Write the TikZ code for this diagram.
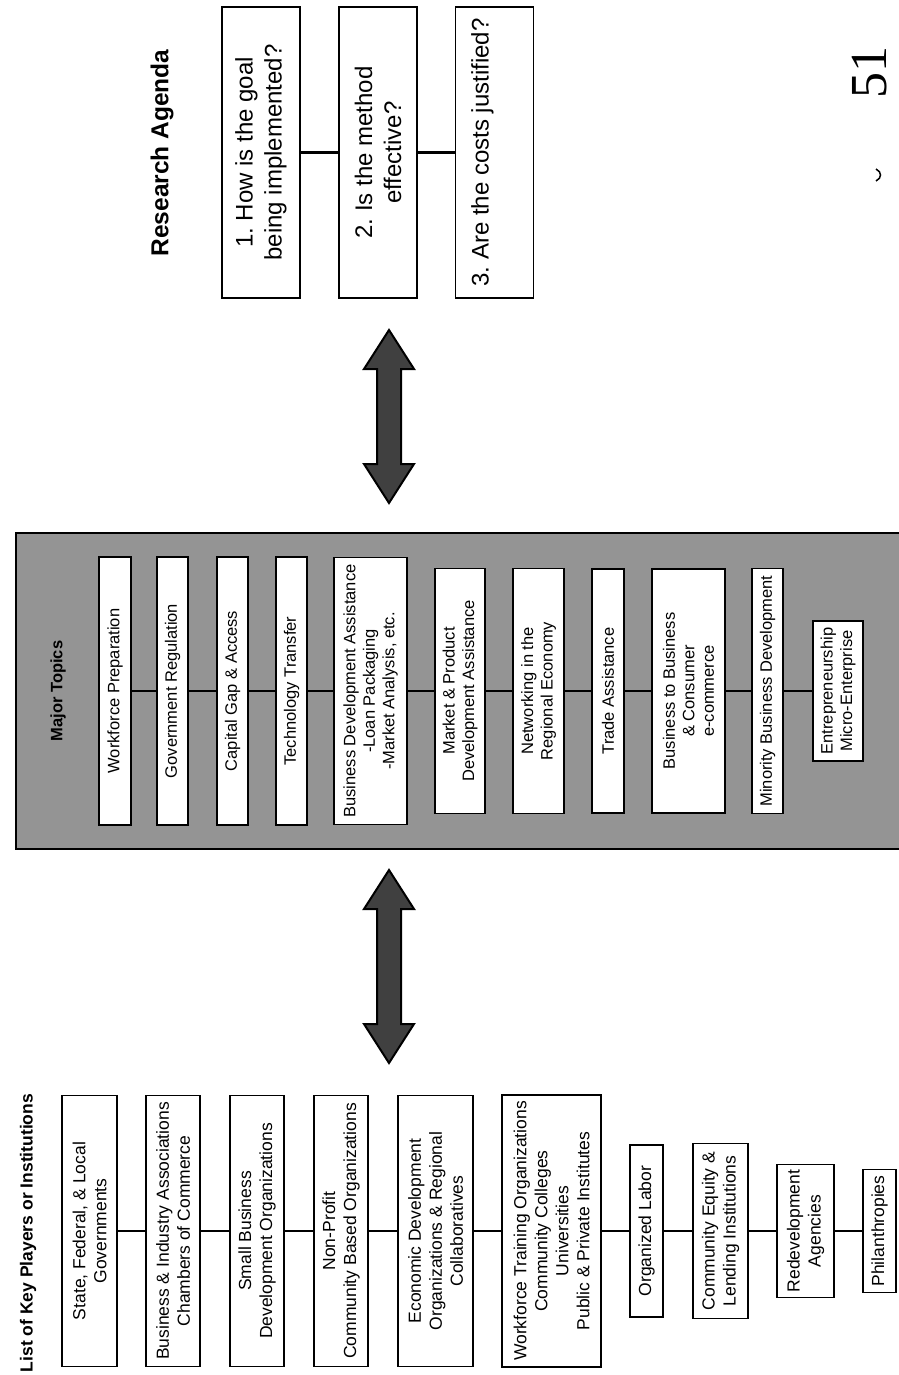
\documentclass[tikz,border=0pt]{standalone}
\usepackage{fontspec}
\setmainfont{Liberation Sans}
\newfontfamily\pagenofont{Liberation Serif}
\frenchspacing

\tikzset{
	box/.style={draw, line width=1.8pt, fill=white, rotate=90, align=center, inner sep=0pt},
	player/.style={box, font=\fontsize{17.5}{21}\selectfont},
	topic/.style={box, font=\fontsize{16.5}{19.5}\selectfont},
	question/.style={box, font=\fontsize{24}{29}\selectfont, minimum width=291pt, minimum height=78pt},
	heading/.style={rotate=90, inner sep=0pt, font=\bfseries},
	link/.style={line width=2.2pt},
}

\begin{document}
\begin{tikzpicture}[x=1pt, y=-1pt]

\useasboundingbox (0,0) rectangle (898,1375);

%% RESEARCH AGENDA
\node[heading, font=\bfseries\fontsize{24.5}{29}\selectfont] (agenda) at (162,153) {Research Agenda};

\node[question] (goal) at (261,152.5) {1. How is the goal\\being implemented?};
\node[question] (method) at (378,152.5) {2. Is the method\\effective?};
\node[question] (costs) at (494.5,152.5) {3. Are the costs justified?\\\mbox{}};

\draw[link] (goal.south) -- (method.north);
\draw[link] (method.south) -- (costs.north);

% Page number
\node[rotate=90, inner sep=0pt, font=\pagenofont\fontsize{52}{60}\selectfont] (pageno) at (870,73) {51};
\draw[line width=1.5pt] (876,169) .. controls (882,172) and (882,178) .. (876,181);

%% MAJOR TOPICS
% Shaded field
\draw[line width=2.5pt, fill=black!42] (16,533) rectangle (906,849);
\node[heading, font=\bfseries\fontsize{16.5}{19.5}\selectfont] (major) at (58,691) {Major Topics};

% Topics
\node[topic, minimum width=268pt, minimum height=32pt] (prep) at (115,691) {Workforce Preparation};
\node[topic, minimum width=268pt, minimum height=31pt] (regul) at (172.5,691) {Government Regulation};
\node[topic, minimum width=268pt, minimum height=31pt] (capital) at (232.5,691) {Capital Gap \& Access};
\node[topic, minimum width=268pt, minimum height=31pt] (techno) at (291.5,691) {Technology Transfer};
\node[topic, minimum width=267pt, minimum height=73pt] (bizdev) at (370.5,691) {Business Development Assistance\\-Loan Packaging\\-Market Analysis, etc.};
\node[topic, minimum width=245pt, minimum height=50pt] (market) at (460,691) {Market \& Product\\Development Assistance};
\node[topic, minimum width=245pt, minimum height=51pt] (network) at (538.5,691) {Networking in the\\Regional Economy};
\node[topic, minimum width=244pt, minimum height=32pt] (trade) at (608,691) {Trade Assistance};
\node[topic, minimum width=244pt, minimum height=73pt] (ecomm) at (688.5,691) {Business to Business\\\& Consumer\\e-commerce};
\node[topic, minimum width=245pt, minimum height=31pt] (minority) at (767.5,691) {Minority Business Development};
\node[topic, minimum width=140pt, minimum height=50pt] (entre) at (838,691) {Entrepreneurship\\Micro-Enterprise};

\foreach \a/\b in {prep/regul, regul/capital, capital/techno, techno/bizdev, bizdev/market, market/network, network/trade, trade/ecomm, ecomm/minority, minority/entre}
{
	\draw[link] (\a.south) -- (\b.north);
}

%% DOUBLE ARROWS
\foreach \ya/\yb in {330/503, 870/1063}
{
	\draw[line width=2pt, fill=black!75, line join=miter] (389,\ya) -- (414,\ya+39) -- (401,\ya+39) -- (401,\yb-39) -- (414,\yb-39) -- (389,\yb) -- (364,\yb-39) -- (377,\yb-39) -- (377,\ya+39) -- (364,\ya+39) -- cycle;
}

%% KEY PLAYERS
\node[heading, font=\bfseries\fontsize{17.5}{21}\selectfont] (players) at (28,1233) {List of Key Players or Institutions};

\node[player, minimum width=271pt, minimum height=55pt] (state) at (89.5,1231) {State, Federal, \& Local\\Governments};
\node[player, minimum width=271pt, minimum height=54pt] (business) at (173,1231) {Business \& Industry Associations\\Chambers of Commerce};
\node[player, minimum width=271pt, minimum height=54pt] (small) at (257,1231) {Small Business\\Development Organizations};
\node[player, minimum width=271pt, minimum height=54pt] (nonprofit) at (341,1231) {Non-Profit\\Community Based Organizations};
\node[player, minimum width=271pt, minimum height=75pt] (econ) at (435.5,1231) {Economic Development\\Organizations \& Regional\\Collaboratives};
\node[player, minimum width=272pt, minimum height=99pt] (training) at (551.5,1231) {Workforce Training Organizations\\Community Colleges\\Universities\\Public \& Private Institutes};
\node[player, minimum width=172pt, minimum height=33pt] (labor) at (646.5,1231) {Organized Labor};
\node[player, minimum width=175pt, minimum height=55pt] (equity) at (720.5,1231) {Community Equity \&\\Lending Institutions};
\node[player, minimum width=133pt, minimum height=57pt] (redevel) at (805.5,1231) {Redevelopment\\Agencies};
\node[player, minimum width=123pt, minimum height=33pt] (philan) at (879.5,1231) {Philanthropies};

\foreach \a/\b in {state/business, business/small, small/nonprofit, nonprofit/econ, econ/training, training/labor, labor/equity, equity/redevel, redevel/philan}
{
	\draw[link] (\a.south) -- (\b.north);
}

\end{tikzpicture}
\end{document}
